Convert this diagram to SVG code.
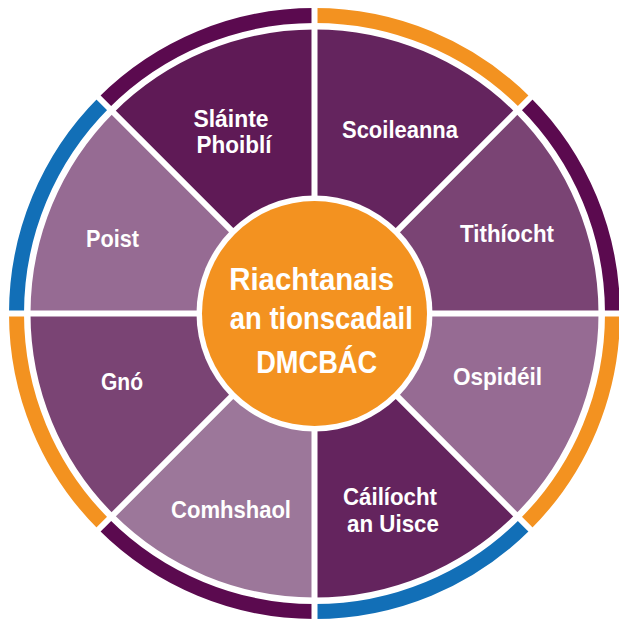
<svg xmlns="http://www.w3.org/2000/svg" width="619" height="621" viewBox="0 0 619 621">
<style>
.lbl{font-family:"Liberation Sans",Arial,sans-serif;font-weight:bold;font-size:24px;fill:#ffffff;text-anchor:middle}
.ctr{font-family:"Liberation Sans",Arial,sans-serif;font-weight:bold;font-size:32px;fill:#ffffff;text-anchor:middle}
.ring{fill:none;stroke-width:15}
.div{stroke:#ffffff;stroke-width:6}
</style>
<rect width="619" height="621" fill="#ffffff"/>
<g id="ring">
<path class="ring" stroke="#5b0a4f" d="M612.5,313.5 A298,298 0 0 0 525.22,102.78"/>
<path class="ring" stroke="#f39220" d="M525.22,102.78 A298,298 0 0 0 314.5,15.5"/>
<path class="ring" stroke="#5b0a4f" d="M314.5,15.5 A298,298 0 0 0 103.78,102.78"/>
<path class="ring" stroke="#126fb7" d="M103.78,102.78 A298,298 0 0 0 16.5,313.5"/>
<path class="ring" stroke="#f39220" d="M16.5,313.5 A298,298 0 0 0 103.78,524.22"/>
<path class="ring" stroke="#5b0a4f" d="M103.78,524.22 A298,298 0 0 0 314.5,611.5"/>
<path class="ring" stroke="#126fb7" d="M314.5,611.5 A298,298 0 0 0 525.22,524.22"/>
<path class="ring" stroke="#f39220" d="M525.22,524.22 A298,298 0 0 0 612.5,313.5"/>
</g>
<g id="sector-tithiocht">
<path fill="#7a4474" d="M598.5,313.5 A284,284 0 0 0 515.32,112.68 L393.7,234.3 A112,112 0 0 1 426.5,313.5 Z"/>
</g>
<g id="sector-scoileanna">
<path fill="#64245e" d="M515.32,112.68 A284,284 0 0 0 314.5,29.5 L314.5,201.5 A112,112 0 0 1 393.7,234.3 Z"/>
</g>
<g id="sector-slainte">
<path fill="#5f1a56" d="M314.5,29.5 A284,284 0 0 0 113.68,112.68 L235.3,234.3 A112,112 0 0 1 314.5,201.5 Z"/>
</g>
<g id="sector-poist">
<path fill="#966b93" d="M113.68,112.68 A284,284 0 0 0 30.5,313.5 L202.5,313.5 A112,112 0 0 1 235.3,234.3 Z"/>
</g>
<g id="sector-gno">
<path fill="#7a4474" d="M30.5,313.5 A284,284 0 0 0 113.68,514.32 L235.3,392.7 A112,112 0 0 1 202.5,313.5 Z"/>
</g>
<g id="sector-comhshaol">
<path fill="#9c779a" d="M113.68,514.32 A284,284 0 0 0 314.5,597.5 L314.5,425.5 A112,112 0 0 1 235.3,392.7 Z"/>
</g>
<g id="sector-cailiocht">
<path fill="#64245e" d="M314.5,597.5 A284,284 0 0 0 515.32,514.32 L393.7,392.7 A112,112 0 0 1 314.5,425.5 Z"/>
</g>
<g id="sector-ospideil">
<path fill="#966b93" d="M515.32,514.32 A284,284 0 0 0 598.5,313.5 L426.5,313.5 A112,112 0 0 1 393.7,392.7 Z"/>
</g>
<g id="dividers">
<line class="div" x1="0" y1="313.5" x2="619" y2="313.5"/>
<line class="div" x1="314.5" y1="0" x2="314.5" y2="621"/>
<line class="div" x1="92.5" y1="91.5" x2="536.5" y2="535.5"/>
<line class="div" x1="92.5" y1="535.5" x2="536.5" y2="91.5"/>
</g>
<g id="center">
<circle cx="314.5" cy="313.5" r="118" fill="#ffffff"/>
<circle cx="314.5" cy="313.5" r="112.5" fill="#f39220"/>
<text class="ctr" x="311.7" y="290" textLength="165" lengthAdjust="spacingAndGlyphs">Riachtanais</text>
<text class="ctr" x="321.3" y="329.3" textLength="183" lengthAdjust="spacingAndGlyphs">an tionscadail</text>
<text class="ctr" x="316.7" y="372.7" textLength="121" lengthAdjust="spacingAndGlyphs">DMCBÁC</text>
</g>
<g id="labels">
<text class="lbl" x="231" y="127" textLength="75" lengthAdjust="spacingAndGlyphs">Sláinte</text>
<text class="lbl" x="234" y="153" textLength="75" lengthAdjust="spacingAndGlyphs">Phoiblí</text>
<text class="lbl" x="400" y="137.7" textLength="116" lengthAdjust="spacingAndGlyphs">Scoileanna</text>
<text class="lbl" x="507" y="242" textLength="94" lengthAdjust="spacingAndGlyphs">Tithíocht</text>
<text class="lbl" x="112.5" y="247" textLength="53" lengthAdjust="spacingAndGlyphs">Poist</text>
<text class="lbl" x="122" y="390" textLength="42" lengthAdjust="spacingAndGlyphs">Gnó</text>
<text class="lbl" x="231" y="518" textLength="120" lengthAdjust="spacingAndGlyphs">Comhshaol</text>
<text class="lbl" x="497.5" y="385" textLength="89" lengthAdjust="spacingAndGlyphs">Ospidéil</text>
<text class="lbl" x="390" y="505" textLength="94" lengthAdjust="spacingAndGlyphs">Cáilíocht</text>
<text class="lbl" x="393" y="532" textLength="92" lengthAdjust="spacingAndGlyphs">an Uisce</text>
</g>
</svg>
